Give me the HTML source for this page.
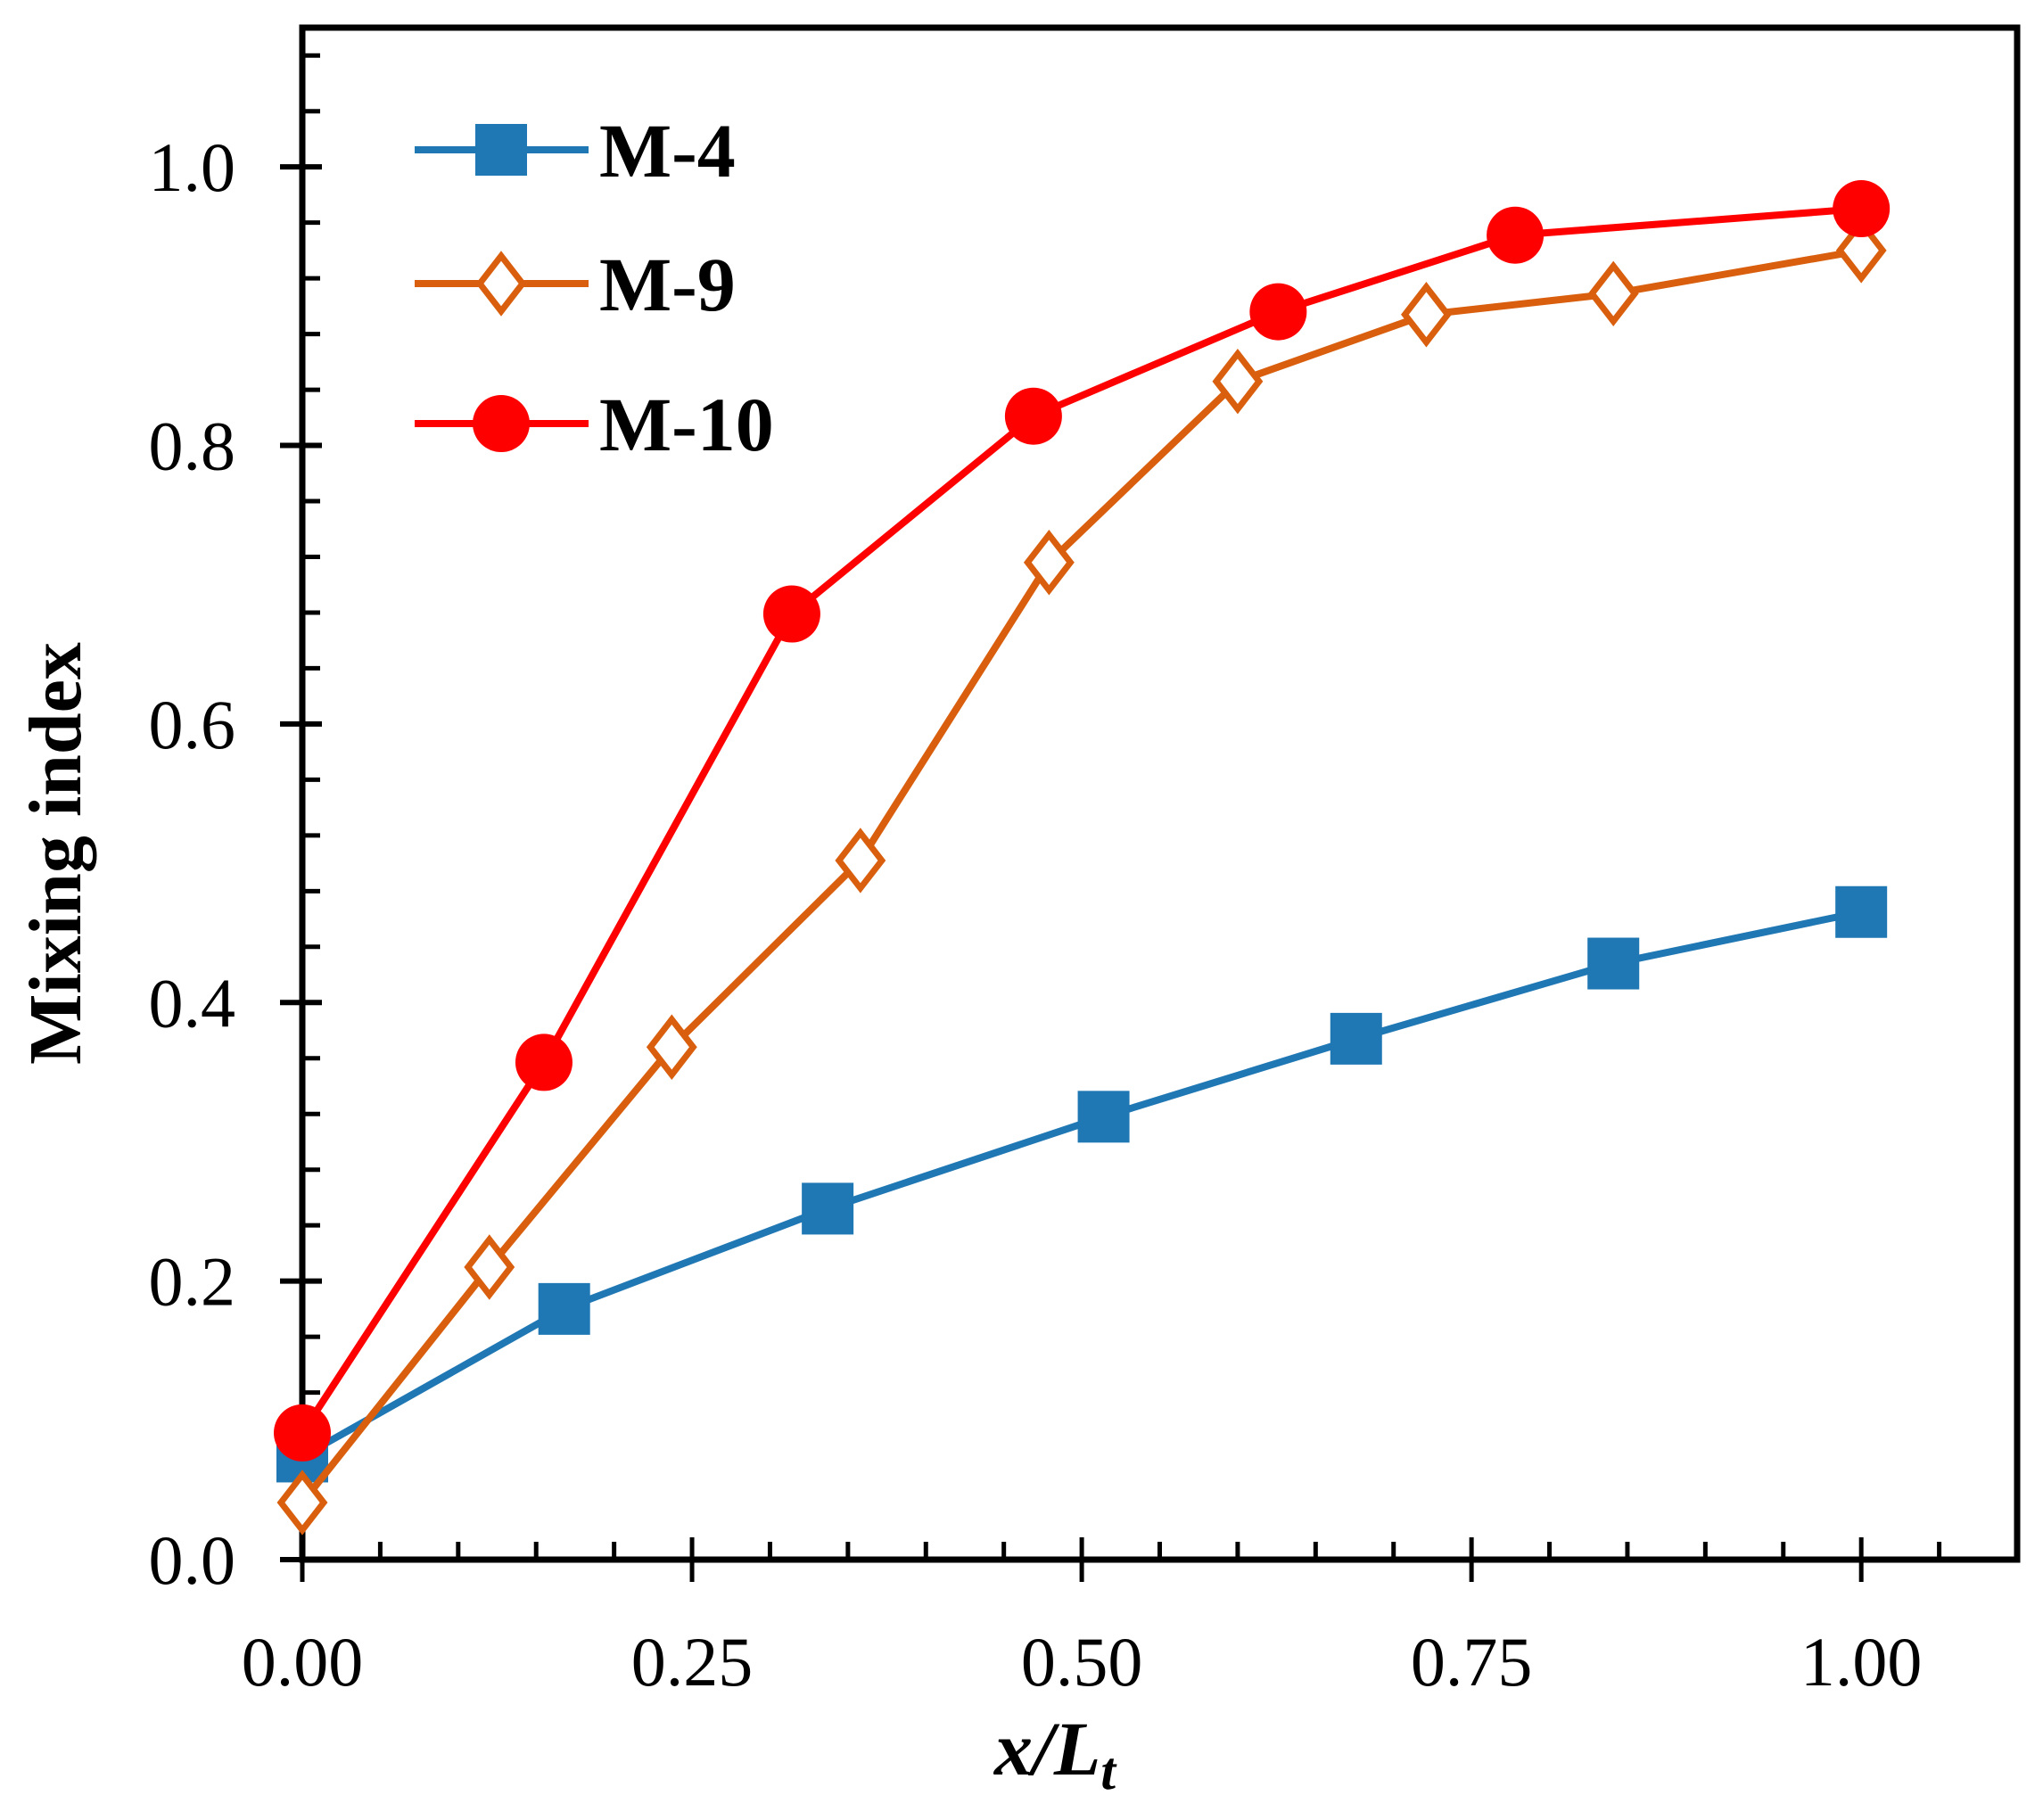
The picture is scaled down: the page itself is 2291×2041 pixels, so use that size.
<!DOCTYPE html>
<html><head><meta charset="utf-8"><style>
html,body{margin:0;padding:0;background:#fff;}
svg{display:block;font-family:"Liberation Serif",serif;}
</style></head><body>
<svg id="chart" width="2291" height="2041" viewBox="0 0 2291 2041">
<g id="axes"></g>
<g id="series"></g>
<g id="legend"></g>
<text x="1183" y="1990" text-anchor="middle" font-size="86" font-weight="bold" font-style="italic">x/L<tspan font-size="60" dy="16">t</tspan></text>
<text transform="translate(90,957) rotate(-90)" text-anchor="middle" font-size="84" font-weight="bold">Mixing index</text>
</svg>
<script>
const xTicks = [0, 0.25, 0.5, 0.75, 1.0];
const xTickLabels = ["0.00","0.25","0.50","0.75","1.00"];
const yTicks = [0, 0.2, 0.4, 0.6, 0.8, 1.0];
const yTickLabels = ["0.0","0.2","0.4","0.6","0.8","1.0"];
const seriesNames = ["M-4","M-9","M-10"];
const m4x = [0, 0.168, 0.337, 0.514, 0.676, 0.841, 1.0];
const m4y = [0.074, 0.18, 0.252, 0.318, 0.374, 0.428, 0.465];
const m9x = [0, 0.12, 0.237, 0.358, 0.479, 0.6, 0.721, 0.841, 1.0];
const m9y = [0.041, 0.21, 0.368, 0.502, 0.716, 0.846, 0.894, 0.909, 0.94];
const m10x = [0, 0.155, 0.314, 0.469, 0.626, 0.778, 1.0];
const m10y = [0.091, 0.357, 0.679, 0.821, 0.896, 0.951, 0.97];

const NS = "http://www.w3.org/2000/svg";
const L = 339, R = 2262, B = 1749, T = 31;
const X = v => L + v * (R - L) / 1.1;
const Y = v => B - v * (B - T) / 1.1;
function mk(tag, attrs, parent){ const e = document.createElementNS(NS, tag); for (const k in attrs) e.setAttribute(k, attrs[k]); parent.appendChild(e); return e; }
const axes = document.getElementById('axes');
const frame = mk('rect', {x:L, y:T, width:R-L, height:B-T, fill:'none', stroke:'#000', 'stroke-width':7}, axes);


for (let i = 1; i <= 22; i++) {
  const v = i * 0.05; if (Math.abs(v*4 - Math.round(v*4)) < 1e-6) continue;
  const t = mk('line', {x1:X(v), x2:X(v), y1:B, y2:B-20, stroke:'#000', 'stroke-width':5}, axes);
  
  
}
for (let i = 1; i <= 27; i++) {
  const v = i * 0.04; if (Math.abs(v*5 - Math.round(v*5)) < 1e-6) continue;
  const t = mk('line', {x1:L, x2:L+20, y1:Y(v), y2:Y(v), stroke:'#000', 'stroke-width':5}, axes);
  
  
}
xTicks.forEach((v, i) => {
  const t = mk('line', {x1:X(v), x2:X(v), y1:B-25, y2:B+25, stroke:'#000', 'stroke-width':5}, axes);
  
  
  const lb = mk('text', {x:X(v), y:1890, 'text-anchor':'middle', 'font-size':78}, axes);
  lb.textContent = xTickLabels[i];
  
  
});
yTicks.forEach((v, i) => {
  const t = mk('line', {x1:L-25, x2:L+22, y1:Y(v), y2:Y(v), stroke:'#000', 'stroke-width':6}, axes);
  
  
  const lb = mk('text', {x:264, y:Y(v)+27, 'text-anchor':'end', 'font-size':78}, axes);
  lb.textContent = yTickLabels[i];
  
  
});
const ser = document.getElementById('series');
function marker(kind, cx, cy, color, parent){
  let e;
  if (kind === 'square') e = mk('rect', {x:cx-29, y:cy-29, width:58, height:58, fill:color}, parent);
  else if (kind === 'diamond') e = mk('polygon', {points:`${cx},${cy-31} ${cx+24},${cy} ${cx},${cy+31} ${cx-24},${cy}`, fill:'#fff', stroke:color, 'stroke-width':7}, parent);
  else e = mk('circle', {cx:cx, cy:cy, r:32, fill:color}, parent);
  return e;
}
function drawSeries(xs, ys, color, kind, name){
  const g = mk('g', {}, ser);
  
  
  const pl = mk('polyline', {points: xs.map((v,i)=>X(v)+','+Y(ys[i])).join(' '), fill:'none', stroke:color, 'stroke-width':8, 'stroke-linejoin':'round'}, g);
  
  
  xs.forEach((v,i) => {
    const m = marker(kind, X(v), Y(ys[i]), color, g);
    
    
  });
}
drawSeries(m4x, m4y, '#1f77b4', 'square', 'm4');
drawSeries(m9x, m9y, '#d95f0e', 'diamond', 'm9');
drawSeries(m10x, m10y, '#ff0000', 'circle', 'm10');
const leg = document.getElementById('legend');
const legendColors = ['#1f77b4','#d95f0e','#ff0000'];
const legendKinds = ['square','diamond','circle'];
const legendY = [168, 318, 475];
seriesNames.forEach((n, i) => {
  const g = mk('g', {}, leg);
  
  
  mk('line', {x1:465, x2:660, y1:legendY[i], y2:legendY[i], stroke:legendColors[i], 'stroke-width':8}, g);
  marker(legendKinds[i], 562, legendY[i], legendColors[i], g);
  const t = mk('text', {x:672, y:legendY[i]+30, 'font-size':86, 'font-weight':'bold'}, g);
  t.textContent = n;
});
</script>
</body></html>
